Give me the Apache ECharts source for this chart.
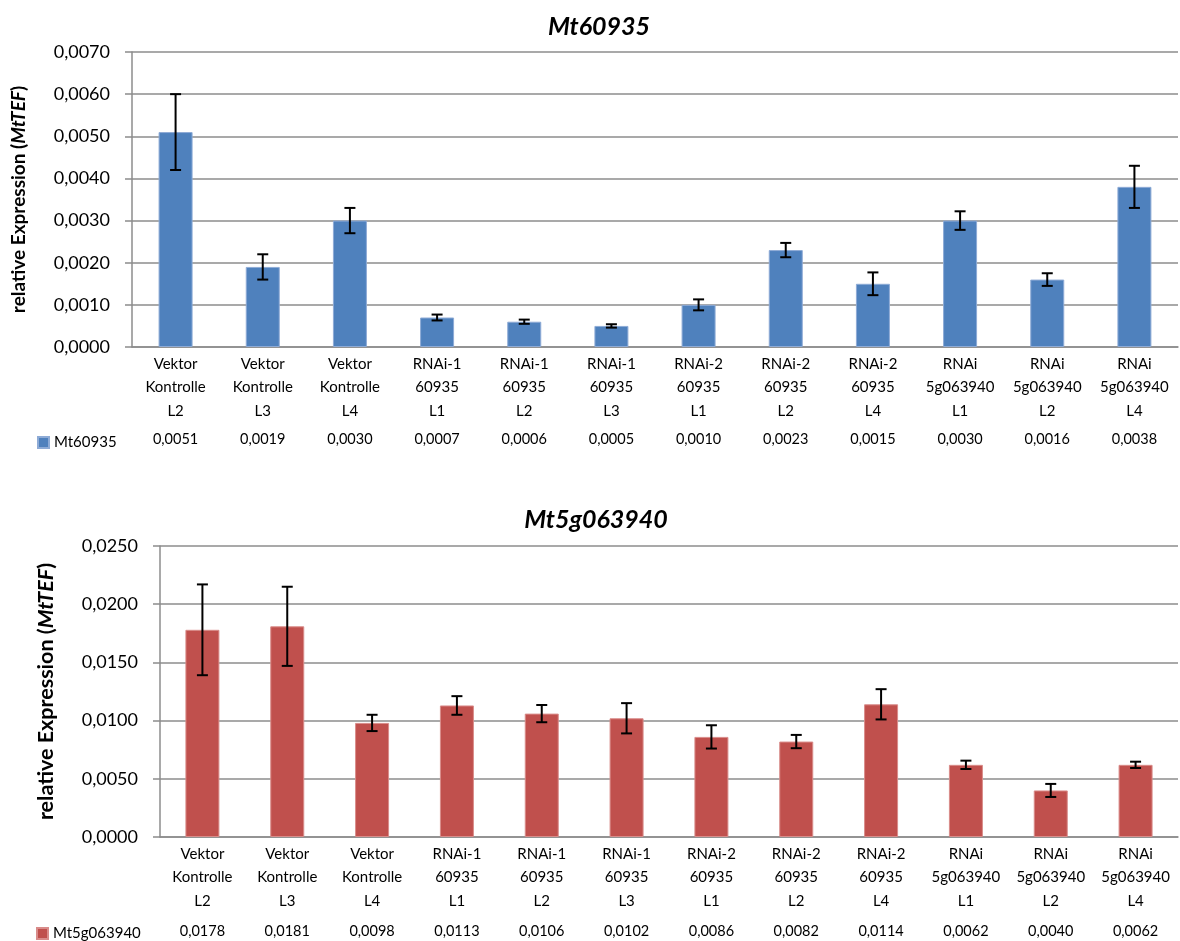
<!DOCTYPE html>
<html>
<head>
<meta charset="utf-8">
<title>Mt60935 / Mt5g063940 relative Expression</title>
<script src="https://cdn.jsdelivr.net/npm/echarts@6/dist/echarts.min.js"></script>
<style>
  html, body { margin: 0; padding: 0; background: #ffffff; }
  #chart { width: 1180px; height: 941px; }
</style>
</head>
<body>
<div id="chart"></div>
<script>
// Sample lines (x-axis categories, shared by both panels)
const categories = [
  'Vektor\nKontrolle\nL2', 'Vektor\nKontrolle\nL3', 'Vektor\nKontrolle\nL4',
  'RNAi-1\n60935\nL1', 'RNAi-1\n60935\nL2', 'RNAi-1\n60935\nL3',
  'RNAi-2\n60935\nL1', 'RNAi-2\n60935\nL2', 'RNAi-2\n60935\nL4',
  'RNAi\n5g063940\nL1', 'RNAi\n5g063940\nL2', 'RNAi\n5g063940\nL4'
];

// Mt60935 expression relative to MtTEF, with error (±)
const mt60935 = [0.0051, 0.0019, 0.0030, 0.0007, 0.0006, 0.0005, 0.0010, 0.0023, 0.0015, 0.0030, 0.0016, 0.0038];
const mt60935Err = [0.0009, 0.0003, 0.0003, 0.00007, 0.00005, 0.00004, 0.00013, 0.00017, 0.00027, 0.00022, 0.00015, 0.0005];

// Mt5g063940 expression relative to MtTEF, with error (±)
const mt5g063940 = [0.0178, 0.0181, 0.0098, 0.0113, 0.0106, 0.0102, 0.0086, 0.0082, 0.0114, 0.0062, 0.0040, 0.0062];
const mt5g063940Err = [0.0039, 0.0034, 0.0007, 0.0008, 0.00074, 0.0013, 0.0010, 0.00057, 0.0013, 0.00036, 0.00056, 0.00027];

// Value axis ranges
const yMax1 = 0.0070, yStep1 = 0.0010;
const yMax2 = 0.0250, yStep2 = 0.0050;

const FONT = 'Lato, "Open Sans", sans-serif';
const BLUE = '#4f81bd';
const RED = '#c0504d';
const GRID_GREY = '#8c8c8c';

const fmt = v => v.toFixed(4).replace('.', ',');

function errorData(values, errs) {
  return values.map((v, i) => [i, v - errs[i], v + errs[i]]);
}

function renderErrorBar(params, api) {
  const lo = api.coord([api.value(0), api.value(1)]);
  const hi = api.coord([api.value(0), api.value(2)]);
  const half = 5.5;
  const style = { stroke: '#000', lineWidth: 2 };
  return {
    type: 'group',
    children: [
      { type: 'line', shape: { x1: hi[0], y1: hi[1], x2: lo[0], y2: lo[1] }, style },
      { type: 'line', shape: { x1: hi[0] - half, y1: hi[1], x2: hi[0] + half, y2: hi[1] }, style },
      { type: 'line', shape: { x1: lo[0] - half, y1: lo[1], x2: lo[0] + half, y2: lo[1] }, style }
    ]
  };
}

function categoryAxis(gridIndex) {
  return {
    type: 'category',
    gridIndex,
    data: categories,
    axisLine: { show: true, lineStyle: { color: GRID_GREY, width: 1.5 } },
    axisTick: { show: false },
    axisLabel: {
      interval: 0,
      color: '#000',
      fontFamily: FONT,
      fontSize: 15,
      lineHeight: 23.5,
      margin: 5
    }
  };
}

function tableAxis(gridIndex, values, offset) {
  return {
    type: 'category',
    gridIndex,
    position: 'bottom',
    offset,
    data: values.map(fmt),
    axisLine: { show: false },
    axisTick: { show: false },
    axisLabel: {
      interval: 0,
      color: '#000',
      fontFamily: FONT,
      fontSize: 14.5,
      lineHeight: 20,
      margin: 0
    }
  };
}

function valueAxis(gridIndex, max, step, nameSize, nameGap) {
  return {
    type: 'value',
    gridIndex,
    min: 0,
    max,
    interval: step,
    name: '{b|relative Expression (}{i|MtTEF}{b|)}',
    nameLocation: 'middle',
    nameGap,
    nameRotate: 90,
    nameTextStyle: {
      rich: {
        b: { fontFamily: FONT, fontWeight: 'bold', fontSize: nameSize, color: '#000' },
        i: { fontFamily: FONT, fontWeight: 'bold', fontStyle: 'italic', fontSize: nameSize, color: '#000' }
      }
    },
    axisLine: { show: true, lineStyle: { color: GRID_GREY, width: 1.5 } },
    axisTick: { show: true, length: 7, lineStyle: { color: GRID_GREY, width: 1.5 } },
    axisLabel: {
      color: '#000',
      fontFamily: FONT,
      fontSize: 18,
      margin: 22,
      formatter: fmt
    },
    splitLine: { show: true, lineStyle: { color: GRID_GREY, width: 1.5 } }
  };
}

const chart = echarts.init(document.getElementById('chart'), null, { renderer: 'canvas' });

chart.setOption({
  backgroundColor: '#ffffff',
  animation: false,
  title: [
    {
      text: 'Mt60935',
      left: 594, top: 9, textAlign: 'center',
      textStyle: { fontFamily: FONT, fontWeight: 'bold', fontStyle: 'italic', fontSize: 25, color: '#000' }
    },
    {
      text: 'Mt5g063940',
      left: 591, top: 502, textAlign: 'center',
      textStyle: { fontFamily: FONT, fontWeight: 'bold', fontStyle: 'italic', fontSize: 25, color: '#000' }
    }
  ],
  legend: [
    {
      data: ['Mt60935'],
      left: 32, top: 430,
      icon: 'rect', itemWidth: 11, itemHeight: 11,
      selectedMode: false,
      textStyle: { fontFamily: FONT, fontSize: 15, color: '#000' }
    },
    {
      data: ['Mt5g063940'],
      left: 31, top: 921,
      icon: 'rect', itemWidth: 11, itemHeight: 11,
      selectedMode: false,
      textStyle: { fontFamily: FONT, fontSize: 15, color: '#000' }
    }
  ],
  grid: [
    { left: 132, right: 2, top: 52, height: 295, containLabel: false },
    { left: 160, right: 2, top: 546, height: 291, containLabel: false }
  ],
  xAxis: [
    categoryAxis(0),
    tableAxis(0, mt60935, 82),
    categoryAxis(1),
    tableAxis(1, mt5g063940, 84)
  ],
  yAxis: [
    valueAxis(0, yMax1, yStep1, 19, 104),
    valueAxis(1, yMax2, yStep2, 21.5, 103)
  ],
  series: [
    {
      name: 'Mt60935',
      type: 'bar',
      xAxisIndex: 0, yAxisIndex: 0,
      data: mt60935,
      barWidth: 34,
      itemStyle: { color: BLUE, borderColor: '#8eabd6', borderWidth: 1 }
    },
    {
      type: 'custom',
      xAxisIndex: 0, yAxisIndex: 0,
      data: errorData(mt60935, mt60935Err),
      renderItem: renderErrorBar,
      z: 5
    },
    {
      name: 'Mt5g063940',
      type: 'bar',
      xAxisIndex: 2, yAxisIndex: 1,
      data: mt5g063940,
      barWidth: 34,
      itemStyle: { color: RED, borderColor: '#d98c8a', borderWidth: 1 }
    },
    {
      type: 'custom',
      xAxisIndex: 2, yAxisIndex: 1,
      data: errorData(mt5g063940, mt5g063940Err),
      renderItem: renderErrorBar,
      z: 5
    }
  ]
});
</script>
</body>
</html>
